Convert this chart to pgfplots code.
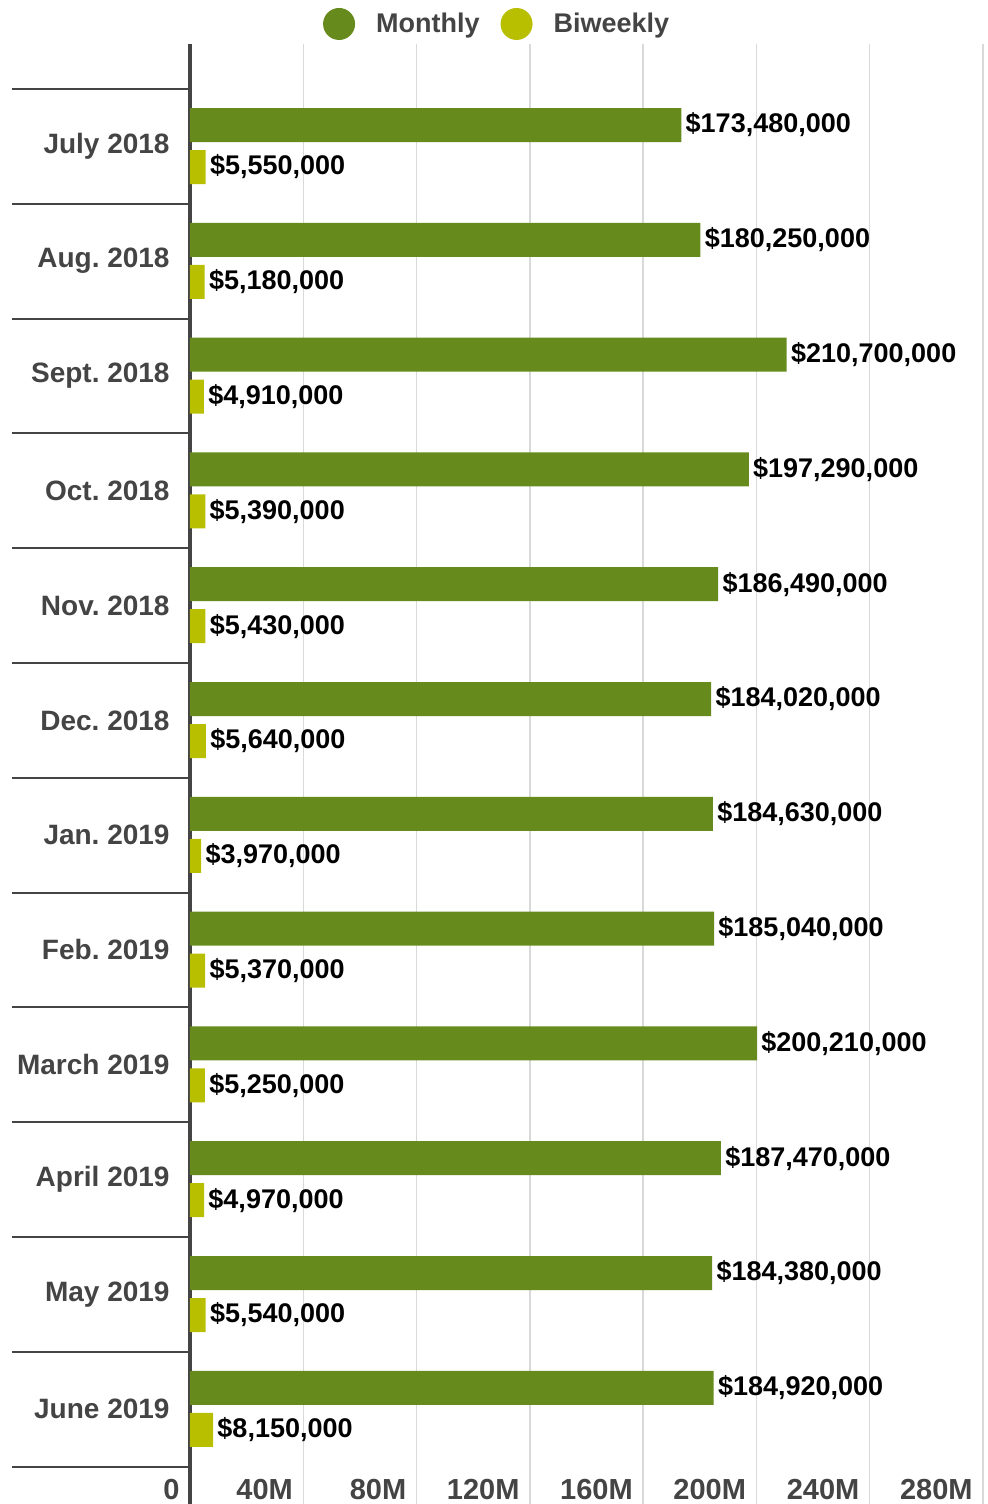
\documentclass[border=0pt]{standalone}
\usepackage{fontspec}
\setmainfont{Liberation Sans}
\usepackage{pgfplots}
\usepackage{pgfplotstable}
\pgfplotsset{compat=1.18}
\frenchspacing
\pgfplotsset{layers/mylayers/.define layer set={axis background,axis grid,main,axis ticks,axis lines,axis tick labels,axis descriptions,axis foreground}{}}
\definecolor{cM}{HTML}{678A1D}
\definecolor{cB}{HTML}{B8BE00}
\definecolor{cT}{HTML}{444444}
\definecolor{cG}{HTML}{D9D9D9}
\pgfplotstableread{
y monthly biweekly mlab blab
0 173.48 5.55 {\$173,480,000} {\$5,550,000}
1 180.25 5.18 {\$180,250,000} {\$5,180,000}
2 210.70 4.91 {\$210,700,000} {\$4,910,000}
3 197.29 5.39 {\$197,290,000} {\$5,390,000}
4 186.49 5.43 {\$186,490,000} {\$5,430,000}
5 184.02 5.64 {\$184,020,000} {\$5,640,000}
6 184.63 3.97 {\$184,630,000} {\$3,970,000}
7 185.04 5.37 {\$185,040,000} {\$5,370,000}
8 200.21 5.25 {\$200,210,000} {\$5,250,000}
9 187.47 4.97 {\$187,470,000} {\$4,970,000}
10 184.38 5.54 {\$184,380,000} {\$5,540,000}
11 184.92 8.15 {\$184,920,000} {\$8,150,000}
}\datatable
\begin{document}
\frenchspacing
\begin{tikzpicture}
\begin{axis}[
  set layers=mylayers,
  scale only axis, width=396.5pt, height=730pt,
  xmin=0, xmax=280, ymin=-0.892, ymax=11.826, y dir=reverse,
  axis line style={draw=none},
  xtick pos=bottom, ytick pos=left,
  xtick={40,80,...,280}, xticklabels={40M,80M,120M,160M,200M,240M,280M},
  extra x ticks={0}, extra x tick labels={0},
  extra x tick style={grid=none, major tick length=730pt, tick align=inside, major tick style={draw=cT, line width=2pt}},
  xmajorgrids, major grid style={draw=cG, line width=0.75pt},
  major tick length=0pt,
  xticklabel style={anchor=base east, inner sep=0pt, xshift=-5pt, yshift=2pt, font=\fontsize{14.5}{16}\selectfont\bfseries, text=cT},
  ytick={0,...,11},
  yticklabels={July 2018, Aug. 2018, Sept. 2018, Oct. 2018, Nov. 2018, Dec. 2018, Jan. 2019, Feb. 2019, March 2019, April 2019, May 2019, June 2019},
  yticklabel style={anchor=east, inner sep=0pt, xshift=-10pt, font=\fontsize{14}{16}\selectfont\bfseries\frenchspacing, text=cT},
  extra y ticks={-0.5,0.5,...,11.5}, extra y tick labels={},
  extra y tick style={grid=none, major tick length=89pt, tick align=outside, major tick style={draw=cT, line width=1pt}},
  /pgf/number format/assume math mode=true,
  nodes near coords style={font=\fontsize{13.5}{15}\selectfont\bfseries, text=black, anchor=west, inner sep=0pt, xshift=2pt},
  legend columns=2,
  legend style={draw=none, fill=none, at={(0.386,1)}, anchor=center, yshift=10pt,
    nodes={inner sep=0pt, font=\fontsize{13.5}{15}\selectfont\bfseries, text=cT}, column sep=10.5pt},
]
\addplot[xbar, bar width=17pt, bar shift=0pt, fill=cM, draw=none,
  nodes near coords, point meta=explicit symbolic,
  legend image code/.code={\fill[cM] (0pt,0pt) circle (8pt);}]
  table[x=monthly, y expr=\thisrow{y}-0.186, meta=mlab] {\datatable};
\addlegendentry{Monthly}
\addplot[xbar, bar width=17pt, bar shift=0pt, fill=cB, draw=none,
  nodes near coords, point meta=explicit symbolic,
  legend image code/.code={\fill[cB] (0pt,0pt) circle (8pt);}]
  table[x=biweekly, y expr=\thisrow{y}+0.18, meta=blab] {\datatable};
\addlegendentry{Biweekly}
\end{axis}
\pgfresetboundingbox
\useasboundingbox (current axis.south west) ++(-95pt,0pt) rectangle ++(493.5pt,752pt);
\end{tikzpicture}
\end{document}
